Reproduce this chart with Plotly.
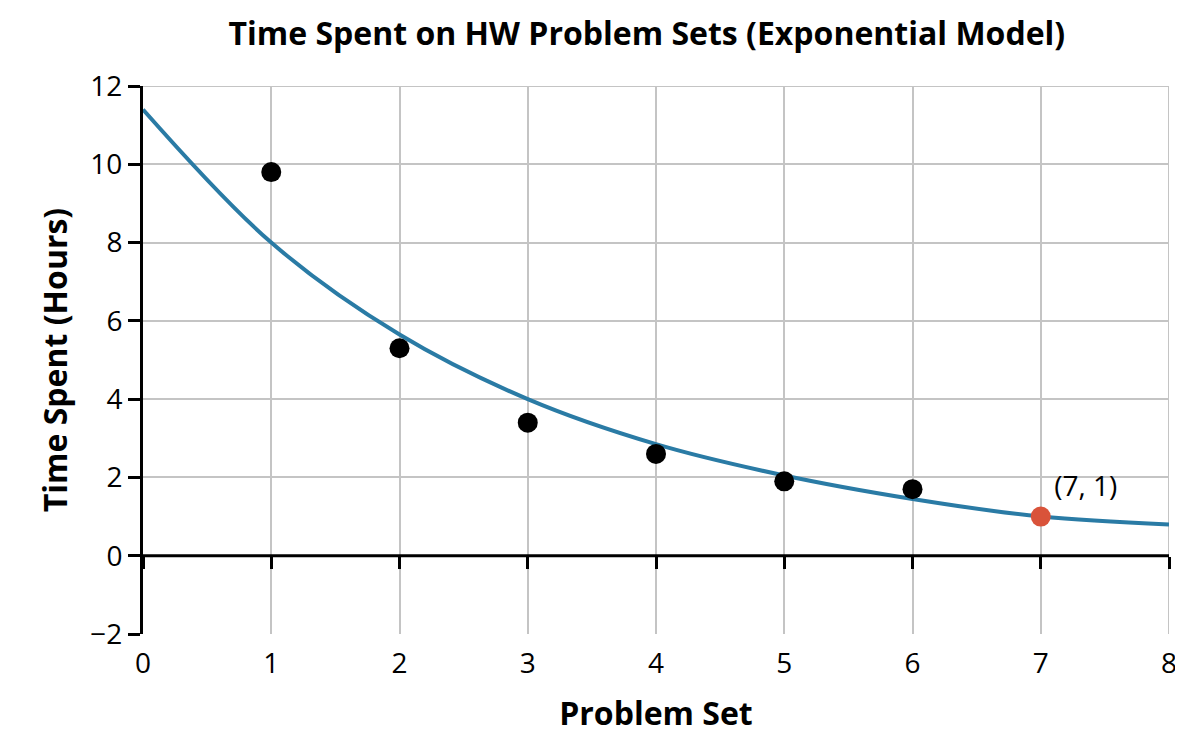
import plotly.graph_objects as go

# data
set_x = [1, 2, 3, 4, 5, 6]
hours = [9.8, 5.3, 3.4, 2.6, 1.9, 1.7]
highlight_x = [7]
highlight_y = [1]
model_x = [0, 1, 2, 3, 4, 5, 6, 7, 8]
model_y = [11.4, 8.0, 5.65, 4.0, 2.85, 2.05, 1.45, 1.0, 0.8]
x_ticks = [0, 1, 2, 3, 4, 5, 6, 7, 8]
y_ticks = [-2, 0, 2, 4, 6, 8, 10, 12]
y_labels = ["\u22122", "0", "2", "4", "6", "8", "10", "12"]

font = "Open Sans"

fig = go.Figure()
fig.add_trace(go.Scatter(x=model_x, y=model_y, mode="lines",
                         line=dict(color="#2a7ba5", width=4, shape="spline")))
fig.add_trace(go.Scatter(x=set_x, y=hours, mode="markers",
                         marker=dict(color="black", size=20)))
fig.add_trace(go.Scatter(x=highlight_x, y=highlight_y, mode="markers+text",
                         text=["(7, 1)"], textposition="top right",
                         textfont=dict(size=28, color="black", family=font),
                         marker=dict(color="#d9533a", size=20)))

# horizontal axis line with ticks at y = 0
fig.add_trace(go.Scatter(x=[0, 8], y=[0, 0], mode="lines",
                         line=dict(color="black", width=3), xaxis="x2"))

fig.update_layout(
    width=1183, height=744,
    paper_bgcolor="white", plot_bgcolor="white",
    showlegend=False,
    margin=dict(l=135, r=22, t=78, b=118),
    font=dict(family=font, size=28, color="black"),
    title=dict(text="<b>Time Spent on HW Problem Sets (Exponential Model)</b>",
               x=0.54, xanchor="center", y=0.965, yanchor="middle",
               font=dict(size=32)),
    xaxis=dict(range=[0, 8], tickvals=x_ticks, showgrid=True,
               gridcolor="#c4c4c4", gridwidth=2, zeroline=False,
               showline=False, ticks="", ticklabelstandoff=10,
               title=dict(text="<b>Problem Set</b>", font=dict(size=32), standoff=22)),
    xaxis2=dict(range=[0, 8], overlaying="x", anchor="free", position=2 / 14,
                tickvals=x_ticks, showticklabels=False, ticks="outside",
                ticklen=12, tickwidth=3, tickcolor="black",
                showgrid=False, zeroline=False, showline=False),
    yaxis=dict(range=[-2, 12], tickvals=y_ticks, ticktext=y_labels,
               showgrid=True, gridcolor="#c4c4c4", gridwidth=2,
               zeroline=False, showline=True, linecolor="black", linewidth=3,
               ticks="outside", ticklen=12, tickwidth=3, tickcolor="black",
               title=dict(text="<b>Time Spent (Hours)</b>", font=dict(size=32), standoff=14)),
)

# top and right grid border lines
fig.add_shape(type="line", xref="x", yref="y", x0=8, x1=8, y0=-2, y1=12,
              line=dict(color="#c4c4c4", width=2), layer="below")
fig.add_shape(type="line", xref="x", yref="y", x0=0, x1=8, y0=12, y1=12,
              line=dict(color="#c4c4c4", width=2), layer="below")

fig.write_html("out.html")
